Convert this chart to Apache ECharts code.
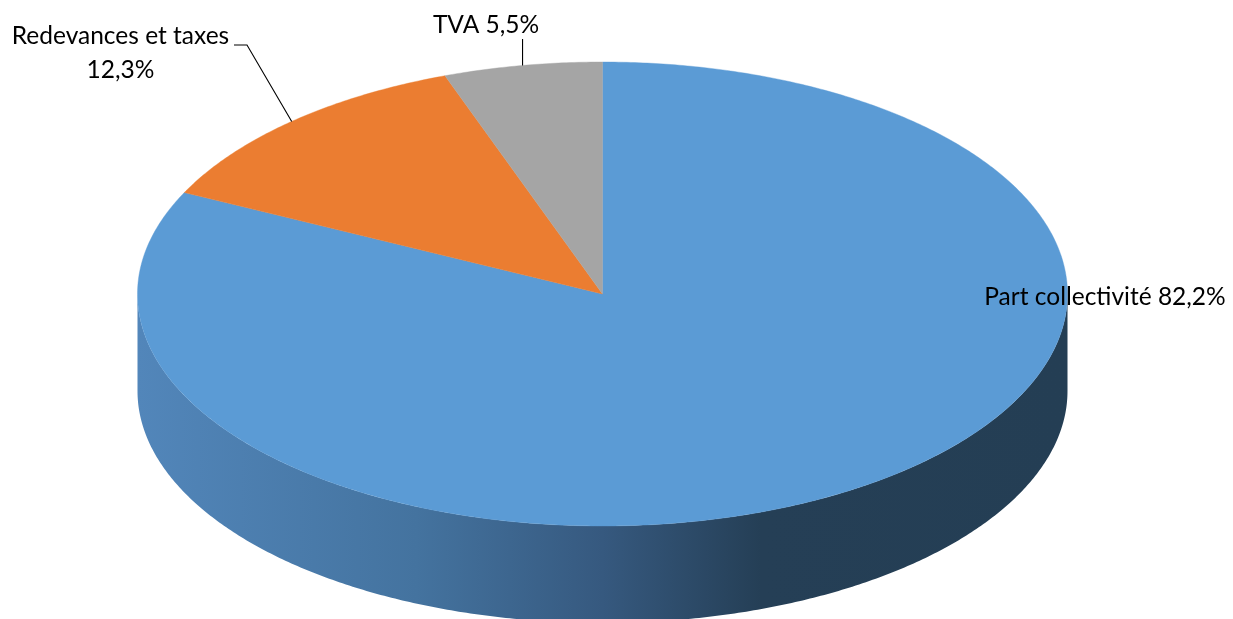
<!DOCTYPE html>
<html><head><meta charset="utf-8">
<style>html,body{margin:0;padding:0;background:#fff}#c{width:1233px;height:619px}</style>
<script src="https://cdn.jsdelivr.net/npm/echarts@6/dist/echarts.min.js"></script>
</head><body><div id="c"></div>
<script>
const categories = ['Part collectivité', 'Redevances et taxes', 'TVA'];
const values = [82.2, 12.3, 5.5];
const valueLabels = ['82,2%', '12,3%', '5,5%'];
const colors = ['#5B9BD5', '#EB7D31', '#A5A5A5'];

const cx = 602.5, cy = 294, rx = 465, ry = 232, depth = 97;
const total = values.reduce((a, b) => a + b, 0);
const font = '24.5px Lato, Carlito, sans-serif';
const pt = (deg, dy) => {
  const a = deg * Math.PI / 180;
  return [cx + Math.sin(a) * rx, cy - Math.cos(a) * ry + (dy || 0)];
};
const starts = [];
values.reduce((acc, v, i) => { starts[i] = acc; return acc + v; }, 0);
const angle = v => v / total * 360;

const wallFill = { type: 'linear', x: 138, y: 0, x2: 1067, y2: 0, global: true, colorStops: [
  { offset: 0, color: '#5286BA' },
  { offset: 0.3, color: '#44739F' },
  { offset: 0.5, color: '#36597F' },
  { offset: 0.67, color: '#253F56' },
  { offset: 1, color: '#243E54' }
]};

function wedge(i) {
  const a0 = angle(starts[i]), a1 = a0 + angle(values[i]);
  const pts = [[cx, cy]];
  const n = Math.ceil((a1 - a0) * 2);
  for (let k = 0; k <= n; k++) pts.push(pt(a0 + (a1 - a0) * k / n));
  return { type: 'polygon', shape: { points: pts }, style: { fill: colors[i], stroke: colors[i], lineWidth: 0.4 } };
}
function wall() {
  const pts = [];
  for (let d = 90; d <= 270; d += 0.5) pts.push(pt(d, 0));
  for (let d = 270; d >= 90; d -= 0.5) pts.push(pt(d, depth));
  return { type: 'polygon', shape: { points: pts }, style: { fill: wallFill } };
}
const mid = i => angle(starts[i]) + angle(values[i]) / 2;
const text = (t, x, y, align) => ({ type: 'text', x, y, style: { text: t, font, fill: '#000', align: align || 'center', verticalAlign: 'middle' } });
const line = pts => ({ type: 'polyline', shape: { points: pts }, style: { stroke: '#000', lineWidth: 1.1, fill: null } });

function labels() {
  return [
    text(categories[1], 120.5, 36), text(valueLabels[1], 120.5, 70),
    line([[234, 45], [247, 45], pt(mid(1))]),
    text(categories[2] + ' ' + valueLabels[2], 486, 25),
    line([[pt(mid(2))[0], 39], pt(mid(2))]),
    text(categories[0] + ' ' + valueLabels[0], 1105, 297)
  ];
}

const chart = echarts.init(document.getElementById('c'), null, { renderer: 'canvas' });
chart.setOption({
  animation: false,
  backgroundColor: '#fff',
  series: [{
    type: 'custom',
    coordinateSystem: 'none',
    data: values.map((v, i) => [i, v]),
    renderItem: (params, api) => {
      const i = api.value(0);
      const children = [];
      if (i === 0) children.push(wall());
      children.push(wedge(i));
      if (i === values.length - 1) children.push(...labels());
      return { type: 'group', children };
    }
  }]
});
</script></body></html>
